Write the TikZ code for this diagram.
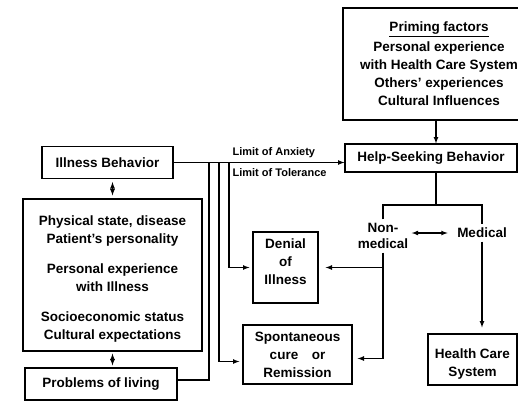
\documentclass[tikz,border=0pt]{standalone}
\usepackage{fontspec}
\setmainfont{Liberation Sans}
\usetikzlibrary{positioning,calc,arrows}

\begin{document}
\begin{tikzpicture}[x=1pt,y=-1pt,
                    line width=1.2pt,>=latex,
                    box node/.style={draw,align=center,inner sep=0pt,font=\fontsize{13.5}{18}\selectfont\bfseries},
                    label node/.style={inner sep=0pt,font=\fontsize{11}{13}\selectfont\bfseries},
                    branch node/.style={align=center,inner sep=3pt,font=\fontsize{13.5}{16.5}\selectfont\bfseries}
                   ]
  \useasboundingbox (0,0) rectangle (518,400);
  % boxes
  \node[box node,minimum width=192,minimum height=112] (prim) at (439,64) {\underline{Priming factors}\\[2pt] Personal experience\\ with Health Care System\\ Others' experiences\\ Cultural Influences};
  \node[box node,minimum width=172,minimum height=28] (help) at (431,158) {Help-Seeking Behavior};
  \node[box node,minimum width=131,minimum height=32] (ill) at (107.5,162.5) {Illness Behavior};
  \node[box node,minimum width=179,minimum height=152] (big) at (112.5,275) {\mbox{}\\[0pt] Physical state, disease\\ Patient's personality\\[12pt] Personal experience\\ with Illness\\[12pt] Socioeconomic status\\ Cultural expectations};
  \node[box node,minimum width=152,minimum height=32] (prob) at (101,384) {Problems of living};
  \node[box node,minimum width=65,minimum height=71] (den) at (285.5,267.5) {Denial\\ of\\ Illness\\[-6pt]\mbox{}};
  \node[box node,minimum width=109,minimum height=59] (spon) at (297.5,354.5) {Spontaneous\\ cure\quad or\\ Remission};
  \node[box node,minimum width=89,minimum height=51] (hcs) at (472.5,359.5) {\mbox{}\\ Health Care\\ System};
  \node[branch node] (non) at (383,236) {Non-\\ medical};
  \node[branch node] (med) at (482,233) {Medical};
  \node[label node,anchor=south west] (anx) at (232,158) {Limit of Anxiety};
  \node[label node,anchor=north west] (tol) at (232,168) {Limit of Tolerance};
  % branch points
  \coordinate (b1) at (209,162.5);
  \coordinate (b2) at (219,162.5);
  \coordinate (b3) at (229,162.5);
  \coordinate (top) at (436,205);
  % connectors
  \draw[->] (prim.south -| top) -- (help.north -| top);
  \draw[->] (ill.east) -- (help.west |- ill.east);
  \draw[<->,shorten <=3pt,shorten >=3pt] (ill.south -| big.north) -- (big.north);
  \draw[<->,shorten <=2pt,shorten >=2pt] (big.south) -- (prob.north -| big.south);
  \draw[->,shorten >=3pt] (b3) |- (den.west);
  \draw[->,shorten >=3pt] (b2) |- ([yshift=-7]spon.west);
  \draw (b1) |- ([yshift=4]prob.east);
  \draw (help.south -| top) -- (top);
  \draw (non.north) |- (top) -| (med.north);
  \draw[<->,shorten >=6pt] (non.east |- med) -- (med.west);
  \draw[->,shorten >=5pt] (non.south) |- ([yshift=-4]spon.east);
  \draw[->,shorten >=7pt] (non.south |- den.east) -- (den.east);
  \draw[->,shorten >=6pt] (med.south) -- (hcs.north -| med.south);
\end{tikzpicture}
\end{document}
